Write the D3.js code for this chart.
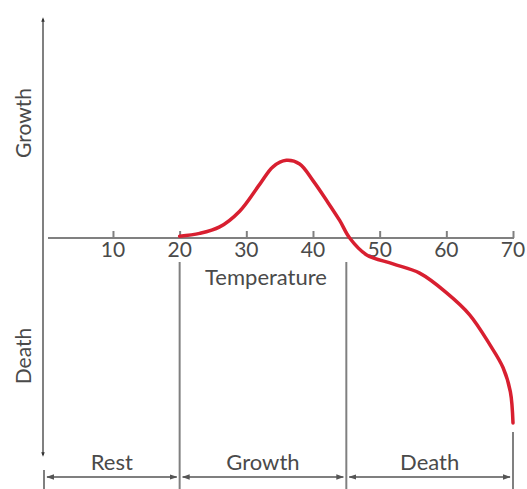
<!DOCTYPE html>
<html>
<head>
<meta charset="utf-8">
<script src="https://cdn.jsdelivr.net/npm/d3@7"></script>
<style>
  body { margin: 0; background: #fff; }
  text { font-family: Lato, "Open Sans", sans-serif; fill: #4a4a4a; }
</style>
</head>
<body>
<div id="chart"></div>
<script>
// growth / death response against temperature (arbitrary units, + growth, - death)
var temps  = [20, 23, 26, 29, 32, 34, 36, 38, 40, 42, 44, 45.5, 48, 52, 56, 60, 63.5, 66.5, 68.5, 69.6, 70];
var values = [0.1, 0.25, 0.6, 1.45, 2.9, 3.85, 4.2, 4.0, 3.1, 2.05, 0.95, 0, -0.9, -1.4, -1.9, -2.95, -4.15, -5.75, -7.0, -8.3, -10];
var tickValues = [10, 20, 30, 40, 50, 60, 70];
var zoneNames = ["Rest", "Growth", "Death"];
var zoneEdges = [0, 20, 45, 70];

var width = 527, height = 489;
var axisColor = "#808080";

var x = d3.scaleLinear().domain([0, 70]).range([46.3, 513]);
var y = d3.scaleLinear().domain([-12, 12]).range([460, 16]);

var svg = d3.select("#chart").append("svg")
    .attr("width", width)
    .attr("height", height);

var defs = svg.append("defs");
defs.append("marker")
    .attr("id", "arr")
    .attr("viewBox", "0 0 10 10")
    .attr("refX", 9).attr("refY", 5)
    .attr("markerWidth", 6).attr("markerHeight", 6)
    .attr("orient", "auto-start-reverse")
    .append("path")
    .attr("d", "M0,1.5 L10,5 L0,8.5 Z")
    .attr("fill", "#555");

defs.append("marker")
    .attr("id", "tip")
    .attr("viewBox", "0 0 10 10")
    .attr("refX", 6).attr("refY", 5)
    .attr("markerWidth", 2.2).attr("markerHeight", 2.2)
    .attr("orient", "auto-start-reverse")
    .append("path")
    .attr("d", "M0,1 L10,5 L0,9 Z")
    .attr("fill", "#333");

// vertical axis (growth up, death down)
svg.append("line")
    .attr("x1", 43).attr("x2", 43)
    .attr("y1", 19).attr("y2", 455)
    .attr("stroke", axisColor).attr("stroke-width", 2)
    .attr("marker-start", "url(#tip)")
    .attr("marker-end", "url(#tip)");

svg.append("text")
    .attr("transform", "translate(31," + 123 + ") rotate(-90)")
    .attr("text-anchor", "middle")
    .style("font-size", "21px")
    .text("Growth");

svg.append("text")
    .attr("transform", "translate(31," + 356 + ") rotate(-90)")
    .attr("text-anchor", "middle")
    .style("font-size", "21px")
    .text("Death");

// temperature axis
var xAxis = d3.axisTop(x)
    .tickValues(tickValues)
    .tickSize(7)
    .tickFormat("");

var gx = svg.append("g")
    .attr("transform", "translate(0," + y(0) + ")")
    .call(xAxis);
gx.select(".domain").remove();
gx.selectAll(".tick line").attr("stroke", axisColor).attr("stroke-width", 2);

svg.append("line")
    .attr("x1", 48).attr("x2", x(70) + 1)
    .attr("y1", y(0)).attr("y2", y(0))
    .attr("stroke", axisColor).attr("stroke-width", 2);

svg.selectAll(".tlabel")
    .data(tickValues)
    .enter().append("text")
    .attr("class", "tlabel")
    .attr("x", function(d) { return x(d); })
    .attr("y", y(0) + 19)
    .attr("text-anchor", "middle")
    .style("font-size", "21px")
    .text(function(d) { return d; });

svg.append("text")
    .attr("x", 266)
    .attr("y", 285)
    .attr("text-anchor", "middle")
    .style("font-size", "22px")
    .text("Temperature");

// zone separators
svg.selectAll(".sep")
    .data(zoneEdges.slice(1))
    .enter().append("line")
    .attr("class", "sep")
    .attr("x1", function(d) { return x(d); })
    .attr("x2", function(d) { return x(d); })
    .attr("y1", function(d, i) { return i < 2 ? 262 : 432; })
    .attr("y2", height)
    .attr("stroke", axisColor).attr("stroke-width", 2);

svg.append("line")
    .attr("x1", 44).attr("x2", 44)
    .attr("y1", 470).attr("y2", height)
    .attr("stroke", axisColor).attr("stroke-width", 2);

// zone arrows and labels
var zones = zoneNames.map(function(n, i) {
    return { name: n, from: zoneEdges[i], to: zoneEdges[i + 1] };
});

svg.selectAll(".zarrow")
    .data(zones)
    .enter().append("line")
    .attr("class", "zarrow")
    .attr("x1", function(d, i) { return (i === 0 ? 44 : x(d.from)) + 3; })
    .attr("x2", function(d) { return x(d.to) - 3; })
    .attr("y1", 477).attr("y2", 477)
    .attr("stroke", "#555").attr("stroke-width", 1.3)
    .attr("marker-start", "url(#arr)")
    .attr("marker-end", "url(#arr)");

svg.selectAll(".zlabel")
    .data(zones)
    .enter().append("text")
    .attr("class", "zlabel")
    .attr("x", function(d, i) { return ((i === 0 ? 44 : x(d.from)) + x(d.to)) / 2; })
    .attr("y", 470)
    .attr("text-anchor", "middle")
    .style("font-size", "22px")
    .text(function(d) { return d.name; });

// response curve
var line = d3.line()
    .x(function(d) { return x(d[0]); })
    .y(function(d) { return y(d[1]); })
    .curve(d3.curveCatmullRom.alpha(0.5));

svg.append("path")
    .datum(temps.map(function(t, i) { return [t, values[i]]; }))
    .attr("d", line)
    .attr("fill", "none")
    .attr("stroke", "#d81f30")
    .attr("stroke-width", 3.5)
    .attr("stroke-linecap", "round");
</script>
</body>
</html>
